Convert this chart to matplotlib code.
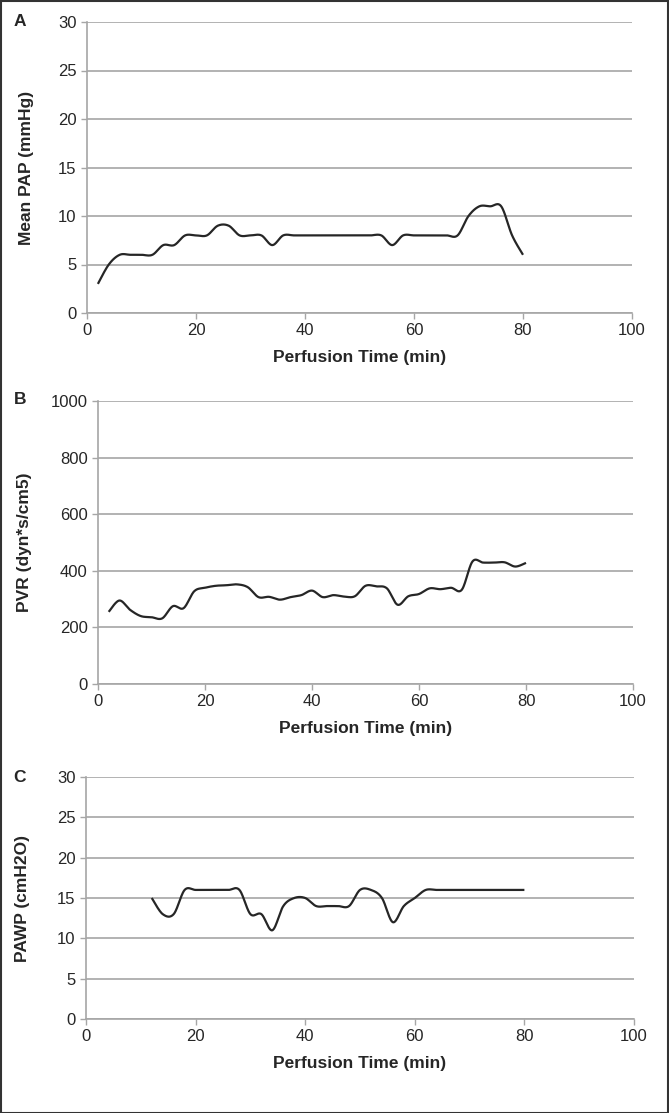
import numpy as np
import matplotlib
matplotlib.use("Agg")
import matplotlib.pyplot as plt
from matplotlib.patches import Rectangle

plt.rcParams['font.family'] = ['Liberation Sans', 'DejaVu Sans']

# ---- data ----
time_a = list(range(2, 82, 2))
pap = [3, 5, 6, 6, 6, 6, 7, 7, 8, 8, 8, 9, 9, 8, 8, 8, 7, 8, 8, 8,
       8, 8, 8, 8, 8, 8, 8, 7, 8, 8, 8, 8, 8, 8, 10, 11, 11, 11, 8, 6]

time_b = list(range(2, 82, 2))
pvr = [255, 295, 262, 240, 236, 232, 275, 268, 328, 340, 347, 349, 352, 342,
       307, 308, 298, 307, 314, 330, 307, 314, 309, 310, 347, 345, 338, 280,
       310, 318, 338, 335, 340, 333, 433, 429, 429, 430, 415, 428]

time_c = list(range(12, 82, 2))
pawp = [15, 13, 13, 16, 16, 16, 16, 16, 16, 13, 13, 11, 14, 15, 15, 14, 14,
        14, 14, 16, 16, 15, 12, 14, 15, 16, 16, 16, 16, 16, 16, 16, 16, 16, 16]

x_ticks = [0, 20, 40, 60, 80, 100]
panel_letters = ["A", "B", "C"]
y_labels = ["Mean PAP (mmHg)", "PVR (dyn*s/cm5)", "PAWP (cmH2O)"]
x_label = "Perfusion Time (min)"


def catmull_rom(x, y, n=24):
    """Excel-like smoothed line: Bezier with control points p1 + (p2 - p0)/6."""
    P = np.column_stack([x, y]).astype(float)
    P = np.vstack([P[0], P, P[-1]])
    out = []
    t = np.linspace(0, 1, n, endpoint=False)
    for i in range(1, len(P) - 2):
        p0, p1, p2, p3 = P[i - 1], P[i], P[i + 1], P[i + 2]
        c1 = p1 + (p2 - p0) / 6.0
        c2 = p2 - (p3 - p1) / 6.0
        b = ((1 - t) ** 3)[:, None] * p1 + (3 * (1 - t) ** 2 * t)[:, None] * c1 \
            + (3 * (1 - t) * t ** 2)[:, None] * c2 + (t ** 3)[:, None] * p2
        out.append(b)
    out.append(P[-2][None, :])
    out = np.vstack(out)
    return out[:, 0], out[:, 1]


W, H = 669, 1113
fig = plt.figure(figsize=(W / 100, H / 100), dpi=100)

def px_axes(left, right, top, bottom):
    return fig.add_axes([left / W, 1 - bottom / H, (right - left) / W, (bottom - top) / H])

axes_px = [(87, 632, 22, 313), (98, 633, 401, 684), (86, 634, 777, 1019)]
ylims = [(0, 30), (0, 1000), (0, 30)]
ysteps = [5, 200, 5]
series = [(time_a, pap), (time_b, pvr), (time_c, pawp)]
ylabel_x = [27, 25, 23]
letter_pos = [(20, 22), (20, 400), (20, 777)]

grid_col = "#a6a6a6"
text_col = "#262626"

for i, (l, r, t, b) in enumerate(axes_px):
    ax = px_axes(l, r, t, b)
    xs, ys = series[i]
    sx, sy = catmull_rom(xs, ys)
    ax.plot(sx, sy, color="#262626", lw=1.6, solid_capstyle="butt", zorder=3)
    ax.set_xlim(0, 100)
    ax.set_ylim(*ylims[i])
    ax.set_xticks(x_ticks)
    ax.set_yticks(np.arange(ylims[i][0], ylims[i][1] + 1, ysteps[i]))
    ax.yaxis.grid(True, color=grid_col, lw=1.2)
    ax.set_axisbelow(True)
    for s in ["top", "right"]:
        ax.spines[s].set_visible(False)
    for s in ["left", "bottom"]:
        ax.spines[s].set_color(grid_col)
        ax.spines[s].set_linewidth(1.2)
    ax.tick_params(axis="both", direction="out", length=4, width=1.0,
                   color=grid_col, labelsize=12, labelcolor=text_col, pad=3.5)
    ax.set_xlabel(x_label, fontsize=12.5, fontweight="bold", color=text_col, labelpad=8.5)
    fig.text(ylabel_x[i] / W, 1 - ((t + b) / 2) / H, y_labels[i], rotation=90,
             ha="center", va="center", fontsize=12.5, fontweight="bold", color=text_col)
    lx, ly = letter_pos[i]
    fig.text(lx / W, 1 - ly / H, panel_letters[i], ha="center", va="center",
             fontsize=12.5, fontweight="bold", color=text_col)

fig.patches.append(Rectangle((0.5 / W, 0.5 / H), (W - 1.5) / W, (H - 1.5) / H,
                             transform=fig.transFigure, fill=False,
                             edgecolor="#333333", lw=1.5))

fig.savefig("out.png", dpi=100)
